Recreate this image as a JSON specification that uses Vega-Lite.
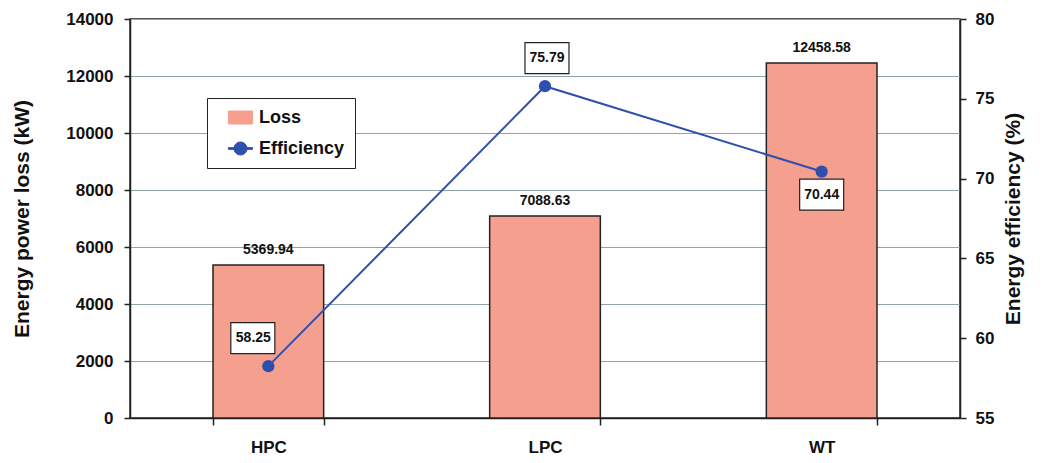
{
  "$schema": "https://vega.github.io/schema/vega-lite/v6.json",
  "autosize": {"type": "none"},
  "width": 830,
  "height": 399,
  "padding": {"left": 130, "top": 19, "right": 90, "bottom": 45},
  "background": "#ffffff",
  "config": {
    "font": "Liberation Sans",
    "view": {"stroke": "#222222", "strokeWidth": 1.5},
    "axis": {
      "labelFont": "Liberation Sans",
      "labelFontWeight": "bold",
      "labelFontSize": 17,
      "labelColor": "#111111",
      "titleFont": "Liberation Sans",
      "titleFontWeight": "bold",
      "titleFontSize": 21,
      "titleColor": "#111111",
      "domainColor": "#222222",
      "domainWidth": 1.5,
      "tickColor": "#222222",
      "tickWidth": 1.5
    },
    "legend": {
      "orient": "none",
      "legendX": 77,
      "legendY": 79,
      "direction": "vertical",
      "strokeColor": "#222222",
      "fillColor": "#ffffff",
      "padding": 10,
      "labelFont": "Liberation Sans",
      "labelFontWeight": "bold",
      "labelFontSize": 18,
      "labelColor": "#111111",
      "symbolSize": 300,
      "symbolOffset": 14,
      "symbolStrokeWidth": 1,
      "symbolOpacity": 1,
      "rowPadding": 12,
      "labelOffset": 9
    }
  },
  "data": {
    "values": [
      {"Component": "HPC", "Loss": 5369.94, "Efficiency": 58.25},
      {"Component": "LPC", "Loss": 7088.63, "Efficiency": 75.79},
      {"Component": "WT", "Loss": 12458.58, "Efficiency": 70.44}
    ]
  },
  "encoding": {
    "x": {
      "field": "Component",
      "type": "nominal",
      "sort": null,
      "scale": {"paddingInner": 0.6, "paddingOuter": 0.3},
      "axis": {"title": null, "labelAngle": 0, "tickBand": "extent", "tickSize": 7, "labelPadding": 14}
    }
  },
  "layer": [
    {
      "transform": [{"filter": "false"}],
      "mark": {"type": "point", "filled": true, "size": 300, "opacity": 1, "stroke": "#222222", "strokeWidth": 1},
      "encoding": {
        "color": {
          "datum": "Efficiency",
          "type": "nominal",
          "scale": {"domain": ["Loss", "Efficiency"], "range": ["#f5a08f", "#2e4fae"]},
          "legend": {"title": null, "labelExpr": "datum.label + '   '"}
        },
        "shape": {
          "datum": "Efficiency",
          "type": "nominal",
          "scale": {
            "domain": ["Loss", "Efficiency"],
            "range": ["M-1.4,-0.75H1.4V0.75H-1.4Z", "M-1.4,-0.1H1.4V0.1H-1.4Z M0.75,0 A0.75,0.75 0 1,1 -0.75,0 A0.75,0.75 0 1,1 0.75,0Z"]
          },
          "legend": {"title": null, "labelExpr": "datum.label + '   '"}
        }
      }
    },
    {
      "layer": [
        {
          "mark": {"type": "bar", "stroke": "#222222", "strokeWidth": 1.5},
          "encoding": {
            "y": {
              "field": "Loss",
              "type": "quantitative",
              "scale": {"domain": [0, 14000]},
              "axis": {
                "title": "Energy power loss (kW)",
                "values": [0, 2000, 4000, 6000, 8000, 10000, 12000, 14000],
                "format": "d",
                "grid": true,
                "gridColor": "#8fa3a8",
                "gridWidth": 1.2,
                "tickSize": 6,
                "labelPadding": 11,
                "titlePadding": 33
              }
            },
            "color": {"datum": "Loss", "type": "nominal", "legend": null}
          }
        },
        {
          "mark": {"type": "text", "baseline": "alphabetic", "dy": -11, "fontSize": 14, "fontWeight": "bold", "font": "Liberation Sans", "color": "#111111"},
          "encoding": {
            "y": {"field": "Loss", "type": "quantitative"},
            "text": {"field": "Loss", "type": "quantitative", "format": ".2f"}
          }
        }
      ]
    },
    {
      "encoding": {
        "y": {
          "field": "Efficiency",
          "type": "quantitative",
          "scale": {"domain": [55, 80]},
          "axis": {
            "title": "Energy efficiency (%)",
            "orient": "right",
            "values": [55, 60, 65, 70, 75, 80],
            "grid": false,
            "tickSize": 6,
            "labelPadding": 9,
            "titlePadding": 30,
            "titleAngle": 270
          }
        }
      },
      "layer": [
        {
          "mark": {"type": "line", "color": "#3a5cc0", "strokeWidth": 2},
          "encoding": {"color": {"datum": "Efficiency", "type": "nominal", "legend": null}}
        },
        {
          "mark": {"type": "point", "filled": true, "size": 150, "opacity": 1},
          "encoding": {"color": {"datum": "Efficiency", "type": "nominal", "legend": null}}
        },
        {
          "transform": [{"filter": "datum.Component === 'HPC'"}],
          "layer": [
            {
              "mark": {"type": "point", "shape": "M-1.705,-0.705H0.295V0.705H-1.705Z", "size": 1936, "filled": true, "fill": "#ffffff", "stroke": "#222222", "strokeWidth": 1.2, "opacity": 1},
              "encoding": {"yOffset": {"value": -28}}
            },
            {
              "mark": {"type": "text", "dx": -15, "dy": -28, "fontSize": 14, "fontWeight": "bold", "font": "Liberation Sans", "color": "#111111"},
              "encoding": {"text": {"field": "Efficiency", "type": "quantitative", "format": ".2f"}}
            }
          ]
        },
        {
          "transform": [{"filter": "datum.Component === 'LPC'"}],
          "layer": [
            {
              "mark": {"type": "point", "shape": "M-0.91,-0.705H1.09V0.705H-0.91Z", "size": 1936, "filled": true, "fill": "#ffffff", "stroke": "#222222", "strokeWidth": 1.2, "opacity": 1},
              "encoding": {"yOffset": {"value": -28}}
            },
            {
              "mark": {"type": "text", "dx": 2, "dy": -28, "fontSize": 14, "fontWeight": "bold", "font": "Liberation Sans", "color": "#111111"},
              "encoding": {"text": {"field": "Efficiency", "type": "quantitative", "format": ".2f"}}
            }
          ]
        },
        {
          "transform": [{"filter": "datum.Component === 'WT'"}],
          "layer": [
            {
              "mark": {"type": "point", "shape": "M-1,-0.705H1V0.705H-1Z", "size": 1936, "filled": true, "fill": "#ffffff", "stroke": "#222222", "strokeWidth": 1.2, "opacity": 1},
              "encoding": {"yOffset": {"value": 23}}
            },
            {
              "mark": {"type": "text", "dy": 23, "fontSize": 14, "fontWeight": "bold", "font": "Liberation Sans", "color": "#111111"},
              "encoding": {"text": {"field": "Efficiency", "type": "quantitative", "format": ".2f"}}
            }
          ]
        }
      ]
    }
  ],
  "resolve": {"scale": {"y": "independent"}}
}
